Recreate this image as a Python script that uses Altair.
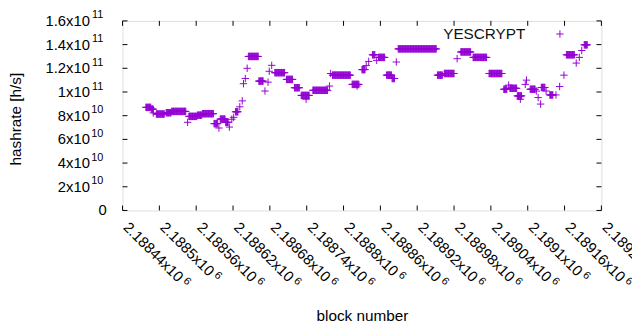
import altair as alt
import pandas as pd

# Runs of constant hashrate estimate: first block, last block, hashrate [h/s]
run_start = [2188478, 2188487, 2188490, 2188495, 2188511, 2188520, 2188546, 2188548, 2188562, 2188570,
             2188589, 2188597, 2188599, 2188608, 2188614, 2188618, 2188621, 2188624, 2188631, 2188635,
             2188637, 2188640, 2188643, 2188645, 2188662, 2188672, 2188677, 2188679, 2188683, 2188688,
             2188707, 2188720, 2188731, 2188739, 2188750, 2188777, 2188779, 2188782, 2188814, 2188822,
             2188830, 2188837, 2188841, 2188847, 2188854, 2188857, 2188870, 2188879, 2188886, 2188889,
             2188953, 2188964, 2188985, 2188991, 2189011, 2189037, 2189061, 2189069, 2189071, 2189083,
             2189088, 2189096, 2189098, 2189104, 2189114, 2189117, 2189121, 2189122, 2189130, 2189136,
             2189146, 2189152, 2189159, 2189163, 2189179, 2189184, 2189188, 2189192]
run_end = [2188486, 2188490, 2188490, 2188508, 2188519, 2188543, 2188546, 2188561, 2188569, 2188588,
           2188595, 2188597, 2188607, 2188612, 2188614, 2188618, 2188621, 2188628, 2188631, 2188635,
           2188637, 2188640, 2188643, 2188661, 2188669, 2188672, 2188677, 2188679, 2188683, 2188704,
           2188717, 2188728, 2188744, 2188739, 2188774, 2188777, 2188779, 2188811, 2188825, 2188822,
           2188835, 2188837, 2188841, 2188851, 2188854, 2188867, 2188878, 2188883, 2188886, 2188951,
           2188961, 2188980, 2188985, 2189007, 2189033, 2189058, 2189066, 2189069, 2189082, 2189090,
           2189088, 2189096, 2189098, 2189112, 2189114, 2189117, 2189121, 2189128, 2189130, 2189141,
           2189146, 2189152, 2189159, 2189176, 2189179, 2189184, 2189188, 2189197]
run_value = [8.70e10, 8.55e10, 8.23e10, 8.14e10, 8.25e10, 8.36e10, 7.44e10, 7.94e10, 8.04e10, 8.17e10,
             7.33e10, 6.96e10, 7.71e10, 7.44e10, 7.04e10, 7.70e10, 7.86e10, 8.33e10, 8.75e10, 9.25e10,
             1.070e11, 1.114e11, 1.200e11, 1.300e11, 1.092e11, 1.008e11, 1.083e11, 1.175e11, 1.225e11, 1.163e11,
             1.106e11, 1.036e11, 9.71e10, 9.39e10, 1.014e11, 1.050e11, 1.156e11, 1.142e11, 1.064e11, 1.050e11,
             1.189e11, 1.223e11, 1.258e11, 1.314e11, 1.267e11, 1.292e11, 1.142e11, 1.114e11, 1.253e11, 1.364e11,
             1.142e11, 1.156e11, 1.281e11, 1.338e11, 1.292e11, 1.156e11, 1.023e11, 1.058e11, 1.031e11, 9.67e10,
             9.39e10, 1.064e11, 1.100e11, 1.023e11, 1.008e11, 9.53e10, 8.98e10, 1.038e11, 1.008e11, 9.75e10,
             9.75e10, 1.046e11, 1.142e11, 1.314e11, 1.244e11, 1.292e11, 1.350e11, 1.398e11]

x_ticks = [2188440, 2188500, 2188560, 2188620, 2188680, 2188740, 2188800,
           2188860, 2188920, 2188980, 2189040, 2189100, 2189160, 2189220]
x_mantissa = ["2.18844x10", "2.1885x10", "2.18856x10", "2.18862x10", "2.18868x10",
              "2.18874x10", "2.1888x10", "2.18886x10", "2.18892x10", "2.18898x10",
              "2.18904x10", "2.1891x10", "2.18916x10", "2.18922x10"]
x_exponent = ["6"] * 14
y_ticks = [0, 2e10, 4e10, 6e10, 8e10, 1e11, 1.2e11, 1.4e11, 1.6e11]
y_mantissa = ["0", "2x10", "4x10", "6x10", "8x10", "1x10", "1.2x10", "1.4x10", "1.6x10"]
y_exponent = ["", "10", "10", "10", "10", "11", "11", "11", "11"]

series_name = "YESCRYPT"
COLOR = "#9400d3"
FONT = "Liberation Sans"
W, H = 485, 192
PLUS = "M-1,0H1M0,-1V1"
FS = 15

rows = []
for s, e, v in zip(run_start, run_end, run_value):
    for b in range(s, e + 1):
        rows.append({"block": b, "hashrate": v})
df = pd.DataFrame(rows)

xt = pd.DataFrame({"block": x_ticks, "m": x_mantissa, "e": x_exponent,
                   "n": [len(s) for s in x_mantissa]})
yt = pd.DataFrame({"hashrate": y_ticks, "m": y_mantissa, "e": y_exponent})

xs = alt.Scale(domain=[x_ticks[0], x_ticks[-1]], nice=False, zero=False)
ys = alt.Scale(domain=[y_ticks[0], y_ticks[-1]], nice=False)

points = alt.Chart(df).mark_point(
    shape=PLUS, filled=False, size=56, strokeWidth=1, color=COLOR, opacity=1
).encode(
    x=alt.X("block:Q", scale=xs, axis=alt.Axis(
        values=x_ticks, labels=False, ticks=False, domain=False, grid=False,
        title="block number", titleFont=FONT, titleFontSize=15.5, titleFontWeight="normal",
        titleColor="black", titleY=111, titleBaseline="alphabetic")),
    y=alt.Y("hashrate:Q", scale=ys, axis=alt.Axis(
        values=y_ticks, labels=False, ticks=False, domain=False, grid=False,
        title="hashrate [h/s]", titleFont=FONT, titleFontSize=15.5, titleFontWeight="normal",
        titleColor="black", titleX=-108, titleY=H / 2 + 3, titleAngle=270,
        titleAlign="center", titleBaseline="middle")),
)

xlab = alt.Chart(xt).mark_text(align="left", baseline="alphabetic", angle=45, font=FONT,
                               fontSize=FS, color="black").encode(
    x=alt.X("block:Q", scale=xs),
    y=alt.value(H + 18),
    text="m:N",
)

# exponent of the x labels, placed after the mantissa along the rotated baseline
def x_expo(nchars):
    adv = (nchars - 2) * 0.556 * FS + 0.278 * FS + 0.5 * FS  # digits + '.' + 'x'
    return alt.Chart(xt).mark_text(
        align="left", baseline="alphabetic", angle=45, font=FONT, fontSize=11,
        dx=adv + 3, dy=-5, color="black"
    ).encode(
        x=alt.X("block:Q", scale=xs),
        y=alt.value(H + 18),
        text="e:N",
    ).transform_filter("datum.n == %d" % nchars)

xexp9 = x_expo(9)
xexp10 = x_expo(10)

mant = alt.Chart(yt).mark_text(align="right", baseline="middle", font=FONT, fontSize=FS,
                               color="black").encode(
    y=alt.Y("hashrate:Q", scale=ys),
    x=alt.value(-33),
    text="m:N",
).transform_filter("datum.hashrate > 0")

zero = alt.Chart(yt).mark_text(align="right", baseline="middle", font=FONT, fontSize=FS,
                               color="black").encode(
    y=alt.Y("hashrate:Q", scale=ys),
    x=alt.value(-16),
    text="m:N",
).transform_filter("datum.hashrate == 0")

expo = alt.Chart(yt).mark_text(align="right", baseline="middle", font=FONT, fontSize=11,
                               dy=-5.5, color="black").encode(
    y=alt.Y("hashrate:Q", scale=ys),
    x=alt.value(-19.5),
    text="e:N",
)

TL = 5
tick_b = alt.Chart(xt).mark_rule(color="black", strokeWidth=1).encode(
    x=alt.X("block:Q", scale=xs), y=alt.value(H), y2=alt.value(H - TL))
tick_t = alt.Chart(xt).mark_rule(color="black", strokeWidth=1).encode(
    x=alt.X("block:Q", scale=xs), y=alt.value(0), y2=alt.value(TL))
tick_l = alt.Chart(yt).mark_rule(color="black", strokeWidth=1).encode(
    y=alt.Y("hashrate:Q", scale=ys), x=alt.value(0), x2=alt.value(TL))
tick_r = alt.Chart(yt).mark_rule(color="black", strokeWidth=1).encode(
    y=alt.Y("hashrate:Q", scale=ys), x=alt.value(W), x2=alt.value(W - TL))

key = pd.DataFrame({"name": [series_name]})
key_text = alt.Chart(key).mark_text(align="right", baseline="alphabetic", font=FONT,
                                    fontSize=15.5, color="#111111").encode(
    x=alt.value(408), y=alt.value(18.5), text="name:N")
key_sym = alt.Chart(key).mark_point(shape=PLUS, filled=False, size=56, strokeWidth=1,
                                    color=COLOR, opacity=1).encode(
    x=alt.value(443), y=alt.value(13.3))

chart = alt.layer(
    points, tick_b, tick_t, tick_l, tick_r, xlab, xexp9, xexp10, mant, zero, expo,
    key_text, key_sym
).resolve_axis(x="shared", y="shared").properties(
    width=W, height=H,
    padding={"left": 116, "top": 11, "right": 31, "bottom": 119},
    autosize=alt.AutoSizeParams(type="none"),
).configure_view(
    stroke="black", strokeWidth=1
).configure(background="white")

chart.save("out.html", embed_options={"renderer": "svg", "actions": False})
